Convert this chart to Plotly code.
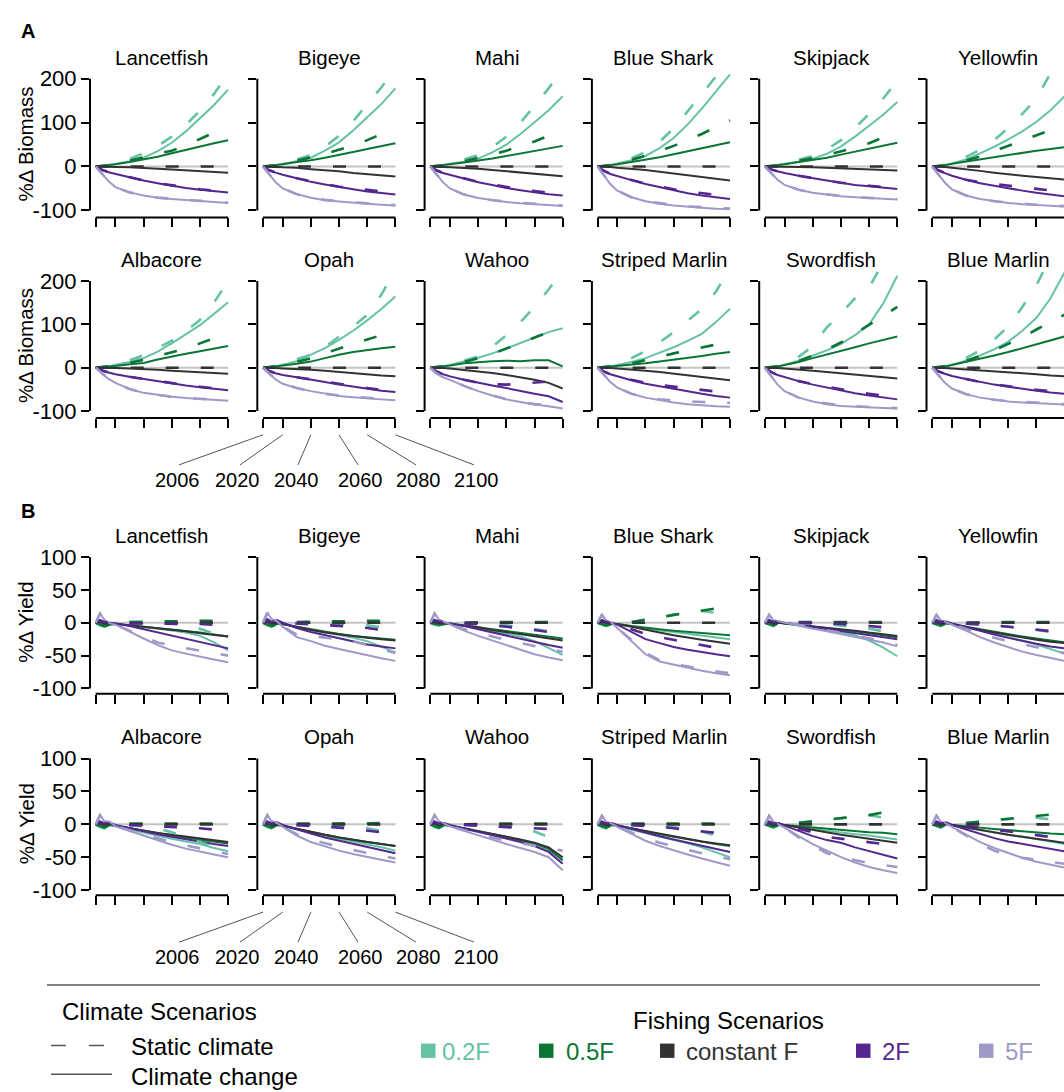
import plotly.graph_objects as go

W, H = 1064, 1092
FONT = "Liberation Sans, Arial, Helvetica, sans-serif"

SCENARIOS = ["0.2F", "0.5F", "constant F", "2F", "5F"]
COLORS = ["#66C2A5", "#0B7536", "#333333", "#54278F", "#9E9AC8"]
ROW1_SPECIES = ["Lancetfish", "Bigeye", "Mahi", "Blue Shark", "Skipjack", "Yellowfin"]
ROW2_SPECIES = ["Albacore", "Opah", "Wahoo", "Striped Marlin", "Swordfish", "Blue Marlin"]
YEARS_BIOMASS = [2006, 2010, 2015, 2020, 2030, 2040, 2050, 2060, 2070, 2080, 2090, 2100]
YEARS_YIELD = [2006, 2009, 2012, 2016, 2020, 2030, 2040, 2050, 2060, 2070, 2080, 2090, 2100]
X_TICKS = [2006, 2020, 2040, 2060, 2080, 2100]
BIOMASS_TICKS = [-100, 0, 100, 200]
YIELD_TICKS = [-100, -50, 0, 50, 100]

# ---------------- % change in biomass (rows: 0.2F, 0.5F, constant F, 2F, 5F) ----------------
BIO_CC_LANCETFISH = [
    [0, 1, 3, 6, 12, 20, 35, 54, 80, 110, 140, 175],
    [0, 1, 3, 5, 10, 16, 22, 30, 38, 45, 53, 60],
    [0, 0, -1, -1, -2, -3, -5, -7, -9, -11, -13, -14],
    [0, -7, -13, -17, -25, -32, -38, -44, -49, -53, -56, -59],
    [0, -15, -33, -47, -59, -66, -71, -74, -76, -78, -81, -83],
]
BIO_SC_LANCETFISH = [
    [0, 1, 4, 8, 17, 30, 47, 68, 95, 127, 165, 212],
    [0, 1, 3, 6, 13, 21, 29, 36, 48, 63, 78, 92],
    [0, 0, 0, 0, 0, 0, 0, 0, 0, 0, 0, 0],
    [0, -7, -13, -17, -25, -32, -38, -43, -48, -52, -55, -58],
    [0, -15, -33, -47, -59, -66, -71, -74, -76, -78, -80, -82],
]
BIO_CC_BIGEYE = [
    [0, 1, 3, 6, 12, 20, 36, 55, 82, 112, 142, 178],
    [0, 1, 3, 5, 10, 14, 20, 26, 33, 40, 47, 53],
    [0, 0, -1, -2, -3, -6, -8, -11, -15, -18, -21, -23],
    [0, -8, -14, -19, -27, -35, -41, -47, -52, -57, -61, -64],
    [0, -16, -36, -50, -63, -71, -77, -80, -83, -85, -87, -89],
]
BIO_SC_BIGEYE = [
    [0, 1, 3, 8, 16, 26, 45, 70, 103, 142, 180, 225],
    [0, 1, 3, 6, 13, 21, 29, 38, 48, 60, 74, 88],
    [0, 0, 0, 0, 0, 0, 0, 0, 0, 0, 0, 0],
    [0, -8, -14, -19, -27, -34, -40, -46, -50, -54, -57, -60],
    [0, -16, -36, -50, -63, -71, -76, -79, -82, -84, -86, -88],
]
BIO_CC_MAHI = [
    [0, 1, 3, 6, 11, 18, 32, 50, 74, 101, 128, 160],
    [0, 1, 3, 5, 9, 13, 18, 24, 30, 36, 42, 47],
    [0, 0, -1, -2, -3, -5, -8, -11, -14, -17, -20, -22],
    [0, -8, -15, -19, -28, -36, -42, -49, -54, -59, -63, -66],
    [0, -16, -36, -50, -64, -72, -77, -81, -84, -86, -88, -90],
]
BIO_SC_MAHI = [
    [0, 1, 3, 8, 16, 26, 44, 68, 100, 138, 178, 222],
    [0, 1, 3, 6, 12, 20, 27, 36, 46, 57, 70, 82],
    [0, 0, 0, 0, 0, 0, 0, 0, 0, 0, 0, 0],
    [0, -8, -15, -19, -28, -35, -41, -47, -52, -56, -60, -63],
    [0, -16, -36, -50, -64, -72, -77, -80, -83, -85, -87, -89],
]
BIO_CC_BLUESHARK = [
    [0, 1, 3, 7, 14, 24, 42, 65, 96, 132, 170, 210],
    [0, 1, 3, 5, 10, 15, 21, 28, 35, 42, 49, 55],
    [0, 0, -1, -3, -5, -8, -12, -16, -20, -24, -28, -32],
    [0, -9, -17, -22, -31, -40, -47, -55, -61, -66, -70, -74],
    [0, -18, -40, -55, -70, -79, -85, -89, -92, -94, -96, -97],
]
BIO_SC_BLUESHARK = [
    [0, 1, 4, 9, 19, 33, 56, 87, 125, 165, 205, 250],
    [0, 1, 3, 7, 15, 25, 35, 47, 60, 74, 90, 105],
    [0, 0, 0, 0, 0, 0, 0, 0, 0, 0, 0, 0],
    [0, -9, -17, -22, -31, -39, -46, -52, -57, -61, -65, -68],
    [0, -18, -40, -55, -70, -79, -84, -88, -91, -93, -95, -96],
]
BIO_CC_SKIPJACK = [
    [0, 1, 3, 6, 11, 18, 29, 46, 68, 93, 118, 147],
    [0, 1, 3, 5, 10, 15, 20, 27, 34, 41, 48, 54],
    [0, 0, 0, -1, -1, -2, -3, -4, -6, -7, -8, -9],
    [0, -6, -11, -15, -21, -27, -32, -37, -42, -45, -48, -51],
    [0, -14, -30, -42, -53, -60, -64, -68, -70, -72, -74, -75],
]
BIO_SC_SKIPJACK = [
    [0, 1, 3, 7, 15, 24, 39, 60, 88, 120, 155, 195],
    [0, 1, 3, 6, 12, 19, 26, 34, 43, 53, 66, 80],
    [0, 0, 0, 0, 0, 0, 0, 0, 0, 0, 0, 0],
    [0, -6, -11, -15, -21, -27, -32, -37, -41, -44, -47, -50],
    [0, -14, -30, -42, -53, -60, -64, -67, -70, -72, -73, -74],
]
BIO_CC_YELLOWFIN = [
    [0, 1, 3, 7, 16, 30, 45, 62, 80, 102, 128, 160],
    [0, 1, 3, 6, 11, 16, 21, 27, 32, 36, 40, 44],
    [0, 0, -1, -3, -6, -10, -14, -18, -21, -24, -27, -30],
    [0, -8, -15, -21, -30, -38, -44, -50, -55, -60, -64, -68],
    [0, -17, -37, -52, -66, -74, -79, -83, -86, -88, -90, -91],
]
BIO_SC_YELLOWFIN = [
    [0, 1, 4, 10, 22, 38, 60, 88, 120, 155, 210, 270],
    [0, 1, 3, 7, 14, 23, 35, 48, 60, 72, 84, 95],
    [0, 0, 0, 0, 0, 0, 0, 0, 0, 0, 0, 0],
    [0, -8, -15, -21, -30, -36, -40, -43, -47, -51, -55, -58],
    [0, -17, -37, -52, -66, -74, -79, -82, -85, -87, -89, -90],
]
BIO_CC_ALBACORE = [
    [0, 1, 3, 7, 13, 22, 37, 56, 76, 98, 124, 151],
    [0, 1, 2, 4, 8, 11, 19, 26, 32, 38, 44, 50],
    [0, 0, -1, -1, -2, -3, -5, -7, -9, -11, -13, -14],
    [0, -6, -11, -15, -21, -26, -32, -37, -41, -45, -49, -52],
    [0, -12, -26, -35, -49, -58, -63, -67, -70, -72, -74, -76],
]
BIO_SC_ALBACORE = [
    [0, 1, 4, 8, 17, 29, 45, 62, 84, 110, 150, 200],
    [0, 1, 3, 5, 11, 18, 27, 36, 44, 56, 68, 78],
    [0, 0, 0, 0, 0, 0, 0, 0, 0, 0, 0, 0],
    [0, -6, -11, -15, -21, -26, -31, -36, -40, -44, -48, -51],
    [0, -12, -26, -35, -49, -58, -63, -67, -70, -72, -74, -75],
]
BIO_CC_OPAH = [
    [0, 1, 3, 7, 15, 30, 45, 64, 85, 109, 135, 164],
    [0, 1, 2, 5, 9, 14, 22, 30, 36, 41, 45, 48],
    [0, 0, -1, -2, -3, -5, -7, -10, -12, -15, -18, -20],
    [0, -7, -13, -17, -22, -27, -33, -39, -44, -49, -53, -56],
    [0, -13, -27, -37, -47, -54, -60, -65, -68, -71, -73, -75],
]
BIO_SC_OPAH = [
    [0, 1, 4, 9, 19, 30, 48, 72, 95, 122, 168, 225],
    [0, 1, 3, 6, 13, 22, 33, 45, 55, 65, 75, 85],
    [0, 0, 0, 0, 0, 0, 0, 0, 0, 0, 0, 0],
    [0, -7, -13, -17, -22, -27, -33, -38, -43, -47, -51, -54],
    [0, -13, -27, -37, -47, -54, -60, -64, -67, -70, -72, -74],
]
BIO_CC_WAHOO = [
    [0, 1, 3, 6, 14, 23, 33, 44, 57, 70, 82, 91],
    [0, 1, 2, 5, 10, 13, 15, 16, 15, 17, 17, 3],
    [0, 0, -1, -2, -5, -8, -12, -17, -22, -28, -35, -48],
    [0, -8, -15, -20, -28, -35, -41, -47, -54, -60, -66, -79],
    [0, -12, -22, -28, -42, -54, -64, -73, -79, -85, -89, -94],
]
BIO_SC_WAHOO = [
    [0, 1, 4, 9, 16, 26, 48, 75, 105, 140, 180, 225],
    [0, 1, 3, 6, 13, 22, 32, 44, 57, 70, 82, 95],
    [0, 0, 0, 0, 0, 0, 0, 0, 0, 0, 0, 0],
    [0, -8, -15, -20, -28, -35, -38, -39, -37, -34, -31, -29],
    [0, -12, -22, -28, -42, -54, -64, -73, -79, -84, -86, -88],
]
BIO_CC_STRIPEDMARLIN = [
    [0, 1, 3, 6, 13, 22, 34, 47, 62, 78, 105, 136],
    [0, 1, 2, 4, 7, 10, 14, 18, 23, 27, 32, 36],
    [0, 0, -1, -2, -4, -7, -10, -14, -18, -22, -26, -29],
    [0, -8, -15, -20, -29, -37, -43, -49, -55, -60, -65, -69],
    [0, -15, -33, -46, -60, -69, -75, -80, -84, -87, -89, -90],
]
BIO_SC_STRIPEDMARLIN = [
    [0, 1, 4, 10, 22, 38, 58, 82, 108, 135, 175, 230],
    [0, 1, 3, 5, 10, 17, 25, 33, 40, 47, 54, 60],
    [0, 0, 0, 0, 0, 0, 0, 0, 0, 0, 0, 0],
    [0, -8, -15, -20, -28, -35, -40, -44, -48, -52, -55, -58],
    [0, -15, -33, -46, -60, -68, -73, -76, -78, -79, -80, -81],
]
BIO_CC_SWORDFISH = [
    [0, 1, 3, 7, 16, 28, 40, 55, 75, 100, 148, 212],
    [0, 1, 3, 6, 13, 22, 30, 38, 47, 56, 64, 72],
    [0, 0, -1, -2, -4, -7, -10, -13, -16, -19, -22, -25],
    [0, -9, -17, -22, -31, -39, -46, -53, -59, -64, -69, -73],
    [0, -18, -39, -54, -69, -78, -84, -88, -90, -92, -93, -94],
]
BIO_SC_SWORDFISH = [
    [0, 1, 4, 10, 25, 50, 93, 125, 160, 185, 240, 300],
    [0, 1, 3, 7, 16, 28, 42, 58, 78, 100, 120, 140],
    [0, 0, 0, 0, 0, 0, 0, 0, 0, 0, 0, 0],
    [0, -9, -17, -22, -31, -38, -44, -50, -55, -60, -64, -68],
    [0, -18, -39, -54, -69, -78, -83, -87, -89, -91, -92, -93],
]
BIO_CC_BLUEMARLIN = [
    [0, 1, 3, 7, 16, 28, 42, 60, 85, 115, 160, 220],
    [0, 1, 3, 6, 13, 20, 28, 36, 45, 54, 63, 72],
    [0, 0, -1, -2, -4, -6, -8, -11, -13, -15, -18, -20],
    [0, -8, -14, -19, -26, -33, -39, -44, -49, -53, -57, -60],
    [0, -16, -35, -48, -61, -69, -74, -78, -80, -82, -84, -85],
]
BIO_SC_BLUEMARLIN = [
    [0, 1, 4, 10, 22, 40, 65, 95, 140, 190, 250, 320],
    [0, 1, 3, 7, 16, 27, 40, 55, 70, 88, 105, 122],
    [0, 0, 0, 0, 0, 0, 0, 0, 0, 0, 0, 0],
    [0, -8, -14, -19, -26, -33, -38, -43, -47, -51, -54, -57],
    [0, -16, -35, -48, -61, -69, -74, -77, -79, -81, -83, -84],
]

# ---------------- % change in yield (rows: 0.2F, 0.5F, constant F, 2F, 5F) ----------------
YLD_CC_LANCETFISH = [
    [0, -4, -6, -3, -2, -4, -7, -9, -12, -15, -20, -30, -42],
    [0, -3, -5, -3, -2, -4, -6, -8, -10, -13, -15, -18, -21],
    [0, 2, -1, -1, -1, -4, -6, -9, -11, -13, -16, -18, -21],
    [0, 4, 1, 0, -1, -5, -10, -14, -19, -24, -29, -34, -39],
    [0, 14, 5, -1, -3, -14, -24, -34, -42, -47, -52, -56, -60],
]
YLD_SC_LANCETFISH = [
    [0, -4, -6, -3, 0, 1, 1, 0, -1, -4, -9, -16, -24],
    [0, -3, -5, -3, 0, 1, 2, 2, 2, 3, 3, 3, 3],
    [0, 2, -1, -1, 0, 0, 0, 0, 0, 0, 0, 0, 0],
    [0, 4, 1, 0, -1, -1, -1, -2, -2, -2, -2, -3, -3],
    [0, 14, 5, -1, -3, -12, -20, -30, -35, -39, -43, -46, -50],
]
YLD_CC_BIGEYE = [
    [0, -4, -6, -2, -2, -6, -10, -15, -19, -23, -28, -36, -45],
    [0, -3, -5, -2, -2, -6, -10, -14, -17, -20, -22, -24, -26],
    [0, 2, -1, 0, -2, -7, -11, -15, -18, -21, -23, -25, -27],
    [0, 5, 1, 4, 0, -8, -14, -19, -24, -29, -33, -36, -39],
    [0, 15, 6, 2, -6, -22, -28, -35, -40, -45, -50, -54, -58],
]
YLD_SC_BIGEYE = [
    [0, -4, -6, -2, 0, 1, 1, 0, -1, -2, -4, -7, -10],
    [0, -3, -5, -2, 0, 1, 2, 2, 2, 3, 3, 3, 3],
    [0, 2, -1, 0, 0, 0, 0, 0, 0, 0, 0, 0, 0],
    [0, 5, 1, 4, 0, -1, -2, -3, -4, -6, -8, -11, -14],
    [0, 15, 6, 2, -6, -18, -20, -23, -25, -28, -34, -40, -46],
]
YLD_CC_MAHI = [
    [0, -3, -4, -2, -1, -4, -8, -12, -16, -21, -28, -38, -49],
    [0, -2, -3, -2, -1, -4, -7, -10, -13, -16, -19, -22, -24],
    [0, 2, 0, -1, -1, -4, -7, -11, -14, -18, -21, -24, -27],
    [0, 4, 2, 1, -1, -5, -10, -15, -20, -25, -30, -34, -38],
    [0, 14, 5, 1, -3, -12, -20, -27, -35, -42, -48, -53, -57],
]
YLD_SC_MAHI = [
    [0, -3, -4, -2, 0, 0, -1, -2, -4, -6, -9, -13, -18],
    [0, -2, -3, -2, 0, 0, 1, 1, 1, 1, 1, 1, 1],
    [0, 2, 0, -1, 0, 0, 0, 0, 0, 0, 0, 0, 0],
    [0, 4, 2, 1, 0, -1, -2, -4, -6, -8, -11, -14, -17],
    [0, 14, 5, 1, -3, -10, -16, -21, -26, -31, -36, -40, -44],
]
YLD_CC_BLUESHARK = [
    [0, -3, -5, -2, -2, -5, -9, -12, -14, -17, -19, -22, -25],
    [0, -2, -4, -2, -2, -5, -8, -10, -12, -14, -16, -18, -19],
    [0, 2, 0, -1, -2, -6, -11, -15, -19, -23, -26, -29, -32],
    [0, 4, 1, 0, -3, -14, -25, -31, -37, -41, -45, -48, -51],
    [0, 12, 4, 0, -8, -28, -48, -59, -64, -69, -73, -77, -80],
]
YLD_SC_BLUESHARK = [
    [0, -3, -5, -2, 0, 1, 4, 8, 12, 15, 18, 15, 8],
    [0, -2, -4, -2, 0, 1, 4, 8, 12, 15, 19, 22, 25],
    [0, 2, 0, -1, 0, 0, 0, 0, 0, 0, 0, 0, 0],
    [0, 4, 1, 0, -2, -10, -17, -22, -26, -30, -35, -38, -40],
    [0, 12, 4, 0, -8, -26, -46, -57, -63, -67, -71, -74, -77],
]
YLD_CC_SKIPJACK = [
    [0, -3, -5, 0, -1, -4, -7, -10, -14, -19, -27, -38, -51],
    [0, -2, -4, 1, -1, -3, -6, -8, -11, -13, -16, -19, -22],
    [0, 2, -1, 0, -1, -3, -6, -8, -10, -12, -15, -18, -20],
    [0, 4, 1, 2, 0, -3, -6, -9, -12, -15, -18, -22, -25],
    [0, 12, 4, 2, 0, -4, -9, -13, -17, -21, -25, -30, -36],
]
YLD_SC_SKIPJACK = [
    [0, -3, -5, 0, 0, 0, -1, -2, -4, -6, -9, -13, -18],
    [0, -2, -4, 1, 0, 1, 1, 1, 1, 1, 1, 1, 1],
    [0, 2, -1, 0, 0, 0, 0, 0, 0, 0, 0, 0, 0],
    [0, 4, 1, 2, 0, 0, -1, -1, -2, -3, -5, -7, -9],
    [0, 12, 4, 2, 0, -3, -7, -11, -15, -19, -23, -28, -34],
]
YLD_CC_YELLOWFIN = [
    [0, -3, -5, -1, -2, -6, -11, -16, -21, -27, -33, -40, -47],
    [0, -2, -4, -1, -2, -6, -10, -14, -17, -21, -24, -27, -30],
    [0, 2, -1, 0, -2, -7, -11, -15, -19, -23, -26, -29, -31],
    [0, 4, 1, 2, -1, -7, -13, -18, -23, -28, -32, -36, -39],
    [0, 12, 4, 1, -3, -12, -22, -30, -37, -44, -49, -54, -58],
]
YLD_SC_YELLOWFIN = [
    [0, -3, -5, -1, 0, -1, -2, -4, -6, -8, -11, -14, -18],
    [0, -2, -4, -1, 0, 0, 1, 1, 1, 1, 1, 1, 1],
    [0, 2, -1, 0, 0, 0, 0, 0, 0, 0, 0, 0, 0],
    [0, 4, 1, 2, 0, -1, -2, -4, -6, -8, -10, -13, -15],
    [0, 12, 4, 1, -3, -10, -17, -23, -28, -33, -38, -42, -46],
]
YLD_CC_ALBACORE = [
    [0, -4, -6, -1, -3, -8, -13, -18, -22, -26, -30, -36, -41],
    [0, -3, -5, -1, -2, -6, -10, -14, -17, -20, -23, -26, -29],
    [0, 2, -1, 1, -2, -6, -10, -13, -16, -19, -22, -25, -27],
    [0, 4, 1, 3, -1, -6, -11, -15, -19, -23, -27, -30, -33],
    [0, 14, 5, 4, -3, -10, -18, -25, -31, -37, -42, -46, -50],
]
YLD_SC_ALBACORE = [
    [0, -4, -6, -1, 0, -1, -3, -6, -12, -18, -27, -35, -42],
    [0, -3, -5, -1, 0, 1, 1, 1, 1, 1, 1, 1, 1],
    [0, 2, -1, 1, 0, 0, 0, 0, 0, 0, 0, 0, 0],
    [0, 4, 1, 3, 0, -1, -1, -2, -3, -4, -6, -8, -10],
    [0, 14, 5, 4, -3, -9, -16, -22, -27, -32, -37, -41, -45],
]
YLD_CC_OPAH = [
    [0, -4, -6, -1, -3, -8, -13, -18, -22, -26, -30, -35, -40],
    [0, -3, -5, -1, -2, -7, -12, -16, -20, -24, -27, -30, -33],
    [0, 2, -1, 0, -2, -7, -12, -16, -20, -24, -27, -30, -33],
    [0, 4, 1, 3, -1, -8, -14, -20, -25, -30, -35, -40, -44],
    [0, 14, 5, 2, -4, -17, -27, -34, -40, -45, -50, -54, -58],
]
YLD_SC_OPAH = [
    [0, -4, -6, -1, 0, 0, 0, -1, -2, -4, -6, -10, -14],
    [0, -3, -5, -1, 0, 1, 1, 1, 1, 1, 2, 2, 2],
    [0, 2, -1, 0, 0, 0, 0, 0, 0, 0, 0, 0, 0],
    [0, 4, 1, 3, 0, -1, -2, -3, -5, -7, -9, -12, -15],
    [0, 14, 5, 2, -4, -15, -23, -29, -34, -39, -44, -48, -52],
]
YLD_CC_WAHOO = [
    [0, -4, -6, -1, -3, -7, -11, -16, -20, -25, -31, -40, -52],
    [0, -3, -5, -1, -2, -6, -10, -15, -19, -24, -29, -37, -55],
    [0, 2, -1, 1, -2, -6, -10, -14, -18, -23, -28, -35, -50],
    [0, 4, 1, 2, -1, -6, -11, -16, -21, -27, -33, -42, -60],
    [0, 14, 5, 1, -3, -10, -17, -24, -30, -36, -42, -50, -70],
]
YLD_SC_WAHOO = [
    [0, -4, -6, -1, 0, 0, -1, -2, -4, -7, -11, -19, -28],
    [0, -3, -5, -1, 0, 0, 1, 1, 1, 1, 1, 1, -3],
    [0, 2, -1, 1, 0, 0, 0, 0, 0, 0, 0, 0, 0],
    [0, 4, 1, 2, 0, -1, -1, -2, -3, -4, -5, -7, -9],
    [0, 14, 5, 1, -3, -9, -15, -20, -25, -29, -33, -37, -40],
]
YLD_CC_STRIPEDMARLIN = [
    [0, -4, -6, -1, -3, -8, -13, -18, -23, -29, -35, -42, -50],
    [0, -3, -5, -1, -2, -6, -11, -15, -19, -23, -27, -30, -33],
    [0, 2, -1, 0, -2, -6, -11, -15, -19, -23, -26, -29, -32],
    [0, 4, 1, 2, -1, -7, -13, -18, -23, -28, -33, -38, -42],
    [0, 13, 4, 1, -4, -15, -25, -33, -40, -46, -52, -58, -63],
]
YLD_SC_STRIPEDMARLIN = [
    [0, -4, -6, -1, 0, 0, -1, -2, -4, -7, -11, -17, -23],
    [0, -3, -5, -1, 0, 1, 1, 1, 1, 1, 1, 1, 1],
    [0, 2, -1, 0, 0, 0, 0, 0, 0, 0, 0, 0, 0],
    [0, 4, 1, 2, 0, -1, -2, -4, -6, -8, -10, -13, -16],
    [0, 13, 4, 1, -4, -13, -21, -28, -34, -39, -44, -49, -53],
]
YLD_CC_SWORDFISH = [
    [0, -3, -5, -1, -1, -4, -7, -10, -12, -15, -17, -20, -23],
    [0, -2, -4, -1, -1, -3, -5, -7, -9, -10, -12, -13, -15],
    [0, 2, -1, 1, -1, -5, -9, -13, -16, -19, -22, -25, -28],
    [0, 4, 1, 2, -2, -10, -18, -24, -28, -35, -41, -47, -52],
    [0, 13, 4, 0, -5, -18, -30, -40, -50, -58, -65, -70, -74],
]
YLD_SC_SWORDFISH = [
    [0, -3, -5, -1, 0, 2, 4, 7, 10, 12, 14, 10, 6],
    [0, -2, -4, -1, 0, 2, 4, 7, 10, 12, 14, 18, 21],
    [0, 2, -1, 1, 0, 0, 0, 0, 0, 0, 0, 0, 0],
    [0, 4, 1, 2, -1, -6, -12, -19, -22, -24, -27, -30, -32],
    [0, 13, 4, 0, -5, -20, -32, -44, -50, -55, -59, -62, -65],
]
YLD_CC_BLUEMARLIN = [
    [0, -3, -5, 0, -1, -5, -9, -13, -16, -19, -22, -26, -30],
    [0, -2, -4, 0, -1, -3, -5, -7, -9, -10, -12, -14, -15],
    [0, 2, -1, 1, -1, -5, -9, -13, -16, -19, -22, -25, -28],
    [0, 4, 1, 3, -1, -8, -15, -21, -26, -30, -34, -38, -41],
    [0, 13, 4, 1, -4, -15, -27, -36, -44, -51, -57, -62, -66],
]
YLD_SC_BLUEMARLIN = [
    [0, -3, -5, 0, 0, 2, 4, 6, 8, 10, 10, 8, 5],
    [0, -2, -4, 0, 0, 2, 4, 6, 9, 11, 13, 15, 17],
    [0, 2, -1, 1, 0, 0, 0, 0, 0, 0, 0, 0, 0],
    [0, 4, 1, 3, 0, -2, -5, -8, -11, -14, -17, -20, -22],
    [0, 13, 4, 1, -4, -17, -30, -40, -47, -51, -54, -57, -60],
]

BIOMASS = {
    "Lancetfish": (BIO_CC_LANCETFISH, BIO_SC_LANCETFISH),
    "Bigeye": (BIO_CC_BIGEYE, BIO_SC_BIGEYE),
    "Mahi": (BIO_CC_MAHI, BIO_SC_MAHI),
    "Blue Shark": (BIO_CC_BLUESHARK, BIO_SC_BLUESHARK),
    "Skipjack": (BIO_CC_SKIPJACK, BIO_SC_SKIPJACK),
    "Yellowfin": (BIO_CC_YELLOWFIN, BIO_SC_YELLOWFIN),
    "Albacore": (BIO_CC_ALBACORE, BIO_SC_ALBACORE),
    "Opah": (BIO_CC_OPAH, BIO_SC_OPAH),
    "Wahoo": (BIO_CC_WAHOO, BIO_SC_WAHOO),
    "Striped Marlin": (BIO_CC_STRIPEDMARLIN, BIO_SC_STRIPEDMARLIN),
    "Swordfish": (BIO_CC_SWORDFISH, BIO_SC_SWORDFISH),
    "Blue Marlin": (BIO_CC_BLUEMARLIN, BIO_SC_BLUEMARLIN),
}
YIELD = {
    "Lancetfish": (YLD_CC_LANCETFISH, YLD_SC_LANCETFISH),
    "Bigeye": (YLD_CC_BIGEYE, YLD_SC_BIGEYE),
    "Mahi": (YLD_CC_MAHI, YLD_SC_MAHI),
    "Blue Shark": (YLD_CC_BLUESHARK, YLD_SC_BLUESHARK),
    "Skipjack": (YLD_CC_SKIPJACK, YLD_SC_SKIPJACK),
    "Yellowfin": (YLD_CC_YELLOWFIN, YLD_SC_YELLOWFIN),
    "Albacore": (YLD_CC_ALBACORE, YLD_SC_ALBACORE),
    "Opah": (YLD_CC_OPAH, YLD_SC_OPAH),
    "Wahoo": (YLD_CC_WAHOO, YLD_SC_WAHOO),
    "Striped Marlin": (YLD_CC_STRIPEDMARLIN, YLD_SC_STRIPEDMARLIN),
    "Swordfish": (YLD_CC_SWORDFISH, YLD_SC_SWORDFISH),
    "Blue Marlin": (YLD_CC_BLUEMARLIN, YLD_SC_BLUEMARLIN),
}

# ---------------- layout geometry (pixels) ----------------
def fx(px):
    return px / W


def fy(py):
    return 1 - py / H


PPY = 132.4 / 94.0            # pixels per year
AXIS_GAP = 5.7                # y-axis line offset left of 2006
COL_X2006 = [95.7 + 167.3 * k for k in range(6)]
ROWS = [
    dict(species=ROW1_SPECIES, metric="biomass", zero=160.7, scale=0.445, title_y=50),
    dict(species=ROW2_SPECIES, metric="biomass", zero=364.7, scale=0.440, title_y=255),
    dict(species=ROW1_SPECIES, metric="yield", zero=623.3, scale=0.6665, title_y=535),
    dict(species=ROW2_SPECIES, metric="yield", zero=827.7, scale=0.6665, title_y=739),
]
SOLID_W = 2.0
DASH_W = 2.6
DASH = "13px,22px"

fig = go.Figure()
layout = {}
shapes = []
annotations = []
row_bottoms = []

for r, row in enumerate(ROWS):
    is_bio = row["metric"] == "biomass"
    yr = [-116, 222] if is_bio else [-108, 106]
    ticks = BIOMASS_TICKS if is_bio else YIELD_TICKS
    years = YEARS_BIOMASS if is_bio else YEARS_YIELD
    data = BIOMASS if is_bio else YIELD
    top_px = row["zero"] - yr[1] * row["scale"]
    bot_px = row["zero"] - yr[0] * row["scale"]
    row_bottoms.append(bot_px)
    for k, sp in enumerate(row["species"]):
        n = r * 6 + k + 1
        sfx = "" if n == 1 else str(n)
        xr, yref = "x" + sfx, "y" + sfx
        x2006 = COL_X2006[k]
        left_px = x2006 - AXIS_GAP
        right_px = min(x2006 + 134.4, W)
        layout["xaxis" + sfx] = dict(
            domain=[fx(left_px), fx(right_px)], anchor=yref,
            range=[2006 - AXIS_GAP / PPY, 2006 + (right_px - x2006) / PPY],
            tickvals=X_TICKS, showticklabels=False, ticks="outside", ticklen=9,
            tickwidth=2, tickcolor="black", showgrid=False, zeroline=False,
            showline=False, fixedrange=True)
        layout["yaxis" + sfx] = dict(
            domain=[fy(bot_px), fy(top_px)], anchor=xr, range=yr,
            tickvals=ticks, ticktext=[str(t) for t in ticks],
            showticklabels=(k == 0), ticks="outside", ticklen=8, tickwidth=2,
            tickcolor="black", tickfont=dict(family=FONT, size=22, color="black"),
            showgrid=False, zeroline=False, showline=False, fixedrange=True)
        # R-style detached axis lines and zero reference line
        shapes.append(dict(type="line", xref=xr + " domain", yref=yref, x0=0, x1=0,
                           y0=ticks[0], y1=ticks[-1], line=dict(color="black", width=2)))
        shapes.append(dict(type="line", xref=xr, yref=yref + " domain", x0=X_TICKS[0],
                           x1=X_TICKS[-1], y0=0, y1=0, line=dict(color="black", width=2)))
        shapes.append(dict(type="line", xref=xr, yref=yref, x0=X_TICKS[0], x1=X_TICKS[-1],
                           y0=0, y1=0, layer="below", line=dict(color="#C4C4C4", width=2)))
        cc, sc = data[sp]
        for i in range(5):
            fig.add_trace(go.Scatter(x=years, y=cc[i], mode="lines", xaxis=xr, yaxis=yref,
                                     line=dict(color=COLORS[i], width=SOLID_W),
                                     showlegend=False, hoverinfo="skip"))
        for i in range(5):
            fig.add_trace(go.Scatter(x=years, y=sc[i], mode="lines", xaxis=xr, yaxis=yref,
                                     line=dict(color=COLORS[i], width=DASH_W, dash=DASH),
                                     showlegend=False, hoverinfo="skip"))
        annotations.append(dict(text=sp, xref=xr, x=2053, yref="paper", y=fy(row["title_y"]),
                                showarrow=False, xanchor="center", yanchor="middle",
                                font=dict(family=FONT, size=20.5, color="black")))
        if k == 0:
            annotations.append(dict(text="%\u0394 Biomass" if is_bio else "%\u0394 Yield",
                                    xref="paper", x=fx(26), yref=yref, y=50 if is_bio else 0,
                                    textangle=-90, showarrow=False, xanchor="center",
                                    yanchor="middle",
                                    font=dict(family=FONT, size=20.5, color="black")))

# panel letters
for letter, py in (("A", 23), ("B", 510)):
    annotations.append(dict(text="<b>%s</b>" % letter, xref="paper", yref="paper", x=fx(28),
                            y=fy(py), showarrow=False, xanchor="center", yanchor="middle",
                            font=dict(family=FONT, size=20, color="black")))

# year labels with leader lines under the second column of each section
LEADER_END_X = [179, 240, 298, 358, 416, 474]
LABEL_X = [177, 237, 296, 360, 418, 476]
for bot in (row_bottoms[1], row_bottoms[3]):
    y_start = bot + 17
    y_end = bot + 47.5
    y_lab = bot + 62.5
    for yv, ex, lx in zip(X_TICKS, LEADER_END_X, LABEL_X):
        sx = COL_X2006[1] + (yv - 2006) * PPY
        shapes.append(dict(type="line", xref="paper", yref="paper", x0=fx(sx), y0=fy(y_start),
                           x1=fx(ex), y1=fy(y_end), line=dict(color="#555555", width=1)))
        annotations.append(dict(text=str(yv), xref="paper", yref="paper", x=fx(lx), y=fy(y_lab),
                                showarrow=False, xanchor="center", yanchor="middle",
                                font=dict(family=FONT, size=20, color="black")))

# ---------------- legend ----------------
shapes.append(dict(type="line", xref="paper", yref="paper", x0=fx(47), x1=fx(1040),
                   y0=fy(990.5), y1=fy(990.5), line=dict(color="#555555", width=1.5)))
annotations.append(dict(text="Climate Scenarios", xref="paper", yref="paper", x=fx(60),
                        y=fy(1017), showarrow=False, xanchor="left", yanchor="middle",
                        font=dict(family=FONT, size=24, color="black")))
shapes.append(dict(type="line", xref="paper", yref="paper", x0=fx(51), x1=fx(107),
                   y0=fy(1052), y1=fy(1052),
                   line=dict(color="#555555", width=1.5, dash="15px,23px")))
shapes.append(dict(type="line", xref="paper", yref="paper", x0=fx(51), x1=fx(112),
                   y0=fy(1081), y1=fy(1081), line=dict(color="#555555", width=1.5)))
for txt, py in (("Static climate", 1053), ("Climate change", 1083)):
    annotations.append(dict(text=txt, xref="paper", yref="paper", x=fx(129), y=fy(py),
                            showarrow=False, xanchor="left", yanchor="middle",
                            font=dict(family=FONT, size=24, color="black")))
annotations.append(dict(text="Fishing Scenarios", xref="paper", yref="paper", x=fx(728),
                        y=fy(1027), showarrow=False, xanchor="center", yanchor="middle",
                        font=dict(family=FONT, size=24, color="black")))
SQUARE_X = [421, 539, 660, 856, 979]
LABEL_LEFT = [440, 564, 684, 880, 1003]
for i, name in enumerate(SCENARIOS):
    shapes.append(dict(type="rect", xref="paper", yref="paper", x0=fx(SQUARE_X[i]),
                       x1=fx(SQUARE_X[i] + 14.5), y0=fy(1050), y1=fy(1064.5),
                       fillcolor=COLORS[i], line=dict(width=0)))
    annotations.append(dict(text=name, xref="paper", yref="paper", x=fx(LABEL_LEFT[i]),
                            y=fy(1058), showarrow=False, xanchor="left", yanchor="middle",
                            font=dict(family=FONT, size=24, color=COLORS[i])))

fig.update_layout(
    width=W, height=H, margin=dict(l=0, r=0, t=0, b=0),
    paper_bgcolor="white", plot_bgcolor="white",
    font=dict(family=FONT, color="black"),
    showlegend=False, shapes=shapes, annotations=annotations, **layout)

fig.write_html("out.html", config={"displayModeBar": False, "staticPlot": True},
               post_script="document.body.style.margin='0px';document.body.style.overflow='hidden';")
